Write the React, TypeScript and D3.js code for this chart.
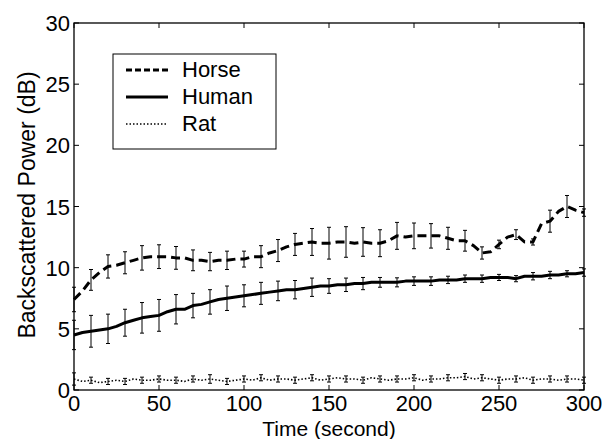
import React, { useEffect, useRef } from "react";
import * as d3 from "d3";

// samples every 5 s
const times = d3.range(0, 301, 5);
const horse = [7.4, 8.1, 9.0, 9.6, 10.1, 10.2, 10.4, 10.6, 10.8, 10.9, 10.9, 10.9, 10.8, 10.8, 10.6, 10.6, 10.5, 10.6, 10.6, 10.7,
  10.7, 10.9, 10.9, 11.2, 11.4, 11.7, 11.9, 12.0, 12.1, 12.0, 12.0, 12.1, 12.1, 12.0, 12.1, 12.0, 12.0, 12.2, 12.6, 12.5,
  12.6, 12.6, 12.6, 12.6, 12.4, 12.2, 12.2, 11.8, 11.2, 11.3, 11.9, 12.5, 12.7, 12.1, 12.1, 13.6, 13.8, 14.6, 15.0, 14.7, 14.5];
const human = [4.5, 4.7, 4.8, 4.9, 5.0, 5.2, 5.5, 5.7, 5.9, 6.0, 6.1, 6.4, 6.6, 6.6, 6.9, 7.0, 7.2, 7.4, 7.5, 7.6,
  7.7, 7.8, 7.9, 8.0, 8.1, 8.2, 8.2, 8.3, 8.4, 8.5, 8.5, 8.6, 8.6, 8.7, 8.7, 8.8, 8.8, 8.8, 8.8, 8.9,
  8.9, 8.9, 8.9, 9.0, 9.0, 9.0, 9.1, 9.1, 9.1, 9.2, 9.2, 9.2, 9.1, 9.3, 9.3, 9.3, 9.4, 9.4, 9.5, 9.5, 9.6];
const rat = [0.9, 0.7, 0.8, 0.6, 0.7, 0.8, 0.7, 0.9, 0.8, 0.8, 0.9, 0.8, 0.8, 0.7, 0.9, 0.8, 0.9, 0.8, 0.7, 0.8,
  0.9, 0.8, 1.0, 0.8, 0.9, 0.9, 0.8, 0.9, 1.0, 0.8, 0.9, 1.0, 0.9, 0.9, 0.8, 1.0, 0.9, 0.8, 0.9, 0.9,
  1.0, 0.8, 0.9, 0.9, 1.0, 1.0, 1.1, 0.9, 1.0, 0.9, 0.8, 0.9, 0.9, 1.0, 0.8, 0.9, 0.9, 0.8, 0.9, 0.9, 0.8];

// error bar half-widths every 10 s
const horseErr = [1.0, 0.85, 0.95, 0.9, 1.0, 0.97, 0.93, 0.85, 0.75, 0.75, 0.65, 0.9, 0.9, 0.9, 1.1, 1.3, 1.25, 1.17, 1.1, 1.1,
  1.05, 1.0, 0.9, 0.85, 0.5, 0.35, 0.4, 0.25, 0.9, 0.9, 0.3];
const humanErr = [1.2, 1.3, 1.2, 1.1, 1.25, 1.3, 1.2, 1.0, 1.0, 1.0, 0.9, 0.9, 0.8, 0.75, 0.75, 0.6, 0.55, 0.5, 0.4, 0.37,
  0.35, 0.35, 0.3, 0.3, 0.3, 0.25, 0.25, 0.3, 0.3, 0.25, 0.3];
const ratErr = [0.5, 0.25, 0.25, 0.25, 0.25, 0.25, 0.25, 0.25, 0.35, 0.25, 0.25, 0.25, 0.25, 0.25, 0.25, 0.25, 0.25, 0.25, 0.25, 0.25,
  0.25, 0.25, 0.25, 0.25, 0.25, 0.25, 0.25, 0.25, 0.25, 0.25, 0.25];

const xTicks = [0, 50, 100, 150, 200, 250, 300];
const yTicks = [0, 5, 10, 15, 20, 25, 30];
const seriesNames = ["Horse", "Human", "Rat"];

const W = 611, H = 439;
const FONT = "'Liberation Sans', Arial, Helvetica, sans-serif";

export default function App() {
  const ref = useRef<SVGSVGElement>(null);

  useEffect(() => {
    const svg = d3.select(ref.current);
    svg.selectAll("*").remove();

    const left = 74, right = 584, top = 23, bottom = 390;
    const x = d3.scaleLinear().domain([0, 300]).range([left, right]);
    const y = d3.scaleLinear().domain([0, 30]).range([bottom, top]);

    const series = [
      { name: "Horse", vals: horse, err: horseErr, dash: "9,5", width: 3 },
      { name: "Human", vals: human, err: humanErr, dash: null, width: 3 },
      { name: "Rat", vals: rat, err: ratErr, dash: "1.5,2", width: 1.6 },
    ];

    const line = d3.line<number>()
      .x((d, i) => x(times[i]))
      .y(d => y(d));

    const g = svg.append("g");

    series.forEach(s => {
      g.append("path")
        .attr("d", line(s.vals))
        .attr("fill", "none")
        .attr("stroke", "#000")
        .attr("stroke-width", s.width)
        .attr("stroke-dasharray", s.dash)
        .attr("stroke-linejoin", "round");

      const bars = s.err.map((e, i) => ({ t: i * 10, v: s.vals[i * 2], e }));
      const eb = g.append("g").attr("stroke", "#000").attr("stroke-width", 1);
      eb.selectAll("line.v").data(bars).join("line")
        .attr("x1", d => x(d.t)).attr("x2", d => x(d.t))
        .attr("y1", d => y(d.v - d.e)).attr("y2", d => y(d.v + d.e));
      eb.selectAll("line.lo").data(bars).join("line")
        .attr("x1", d => x(d.t) - 2).attr("x2", d => x(d.t) + 2)
        .attr("y1", d => y(d.v - d.e)).attr("y2", d => y(d.v - d.e));
      eb.selectAll("line.hi").data(bars).join("line")
        .attr("x1", d => x(d.t) - 2).attr("x2", d => x(d.t) + 2)
        .attr("y1", d => y(d.v + d.e)).attr("y2", d => y(d.v + d.e));
    });

    // axes box
    svg.append("rect")
      .attr("x", left).attr("y", top)
      .attr("width", right - left).attr("height", bottom - top)
      .attr("fill", "none").attr("stroke", "#000").attr("stroke-width", 1.3);

    const tk = 5;
    const ticks = svg.append("g").attr("stroke", "#000").attr("stroke-width", 1);
    xTicks.forEach(t => {
      ticks.append("line").attr("x1", x(t)).attr("x2", x(t)).attr("y1", bottom).attr("y2", bottom - tk);
      ticks.append("line").attr("x1", x(t)).attr("x2", x(t)).attr("y1", top).attr("y2", top + tk);
    });
    yTicks.forEach(t => {
      ticks.append("line").attr("x1", left).attr("x2", left + tk).attr("y1", y(t)).attr("y2", y(t));
      ticks.append("line").attr("x1", right).attr("x2", right - tk).attr("y1", y(t)).attr("y2", y(t));
    });

    svg.append("g").selectAll("text").data(xTicks).join("text")
      .attr("x", d => x(d)).attr("y", 411)
      .attr("text-anchor", "middle")
      .attr("font-family", FONT).attr("font-size", 22)
      .text(d => d);

    svg.append("g").selectAll("text").data(yTicks).join("text")
      .attr("x", left - 4).attr("y", d => y(d) + 8)
      .attr("text-anchor", "end")
      .attr("font-family", FONT).attr("font-size", 22)
      .text(d => d);

    svg.append("text")
      .attr("x", (left + right) / 2).attr("y", 436)
      .attr("text-anchor", "middle")
      .attr("font-family", FONT).attr("font-size", 21)
      .text("Time (second)");

    svg.append("text")
      .attr("transform", `translate(35,205) rotate(-90)`)
      .attr("text-anchor", "middle")
      .attr("font-family", FONT).attr("font-size", 23)
      .text("Backscattered Power (dB)");

    // legend
    const lg = svg.append("g");
    lg.append("rect")
      .attr("x", 113).attr("y", 54).attr("width", 163).attr("height", 95)
      .attr("fill", "#fff").attr("stroke", "#000").attr("stroke-width", 1);
    const ly = d3.scalePoint().domain(seriesNames).range([70, 124]);
    series.forEach(s => {
      lg.append("line")
        .attr("x1", 126).attr("x2", 168)
        .attr("y1", ly(s.name)!).attr("y2", ly(s.name)!)
        .attr("stroke", "#000")
        .attr("stroke-width", s.name === "Rat" ? 1.3 : s.width)
        .attr("stroke-dasharray", s.name === "Horse" ? "6,3" : s.dash);
      lg.append("text")
        .attr("x", 182).attr("y", ly(s.name)! + 7)
        .attr("font-family", FONT).attr("font-size", 22)
        .text(s.name);
    });
  }, []);

  return (
    <svg ref={ref} width={W} height={H}
      style={{ position: "absolute", left: 0, top: 0, background: "#fff" }} />
  );
}
